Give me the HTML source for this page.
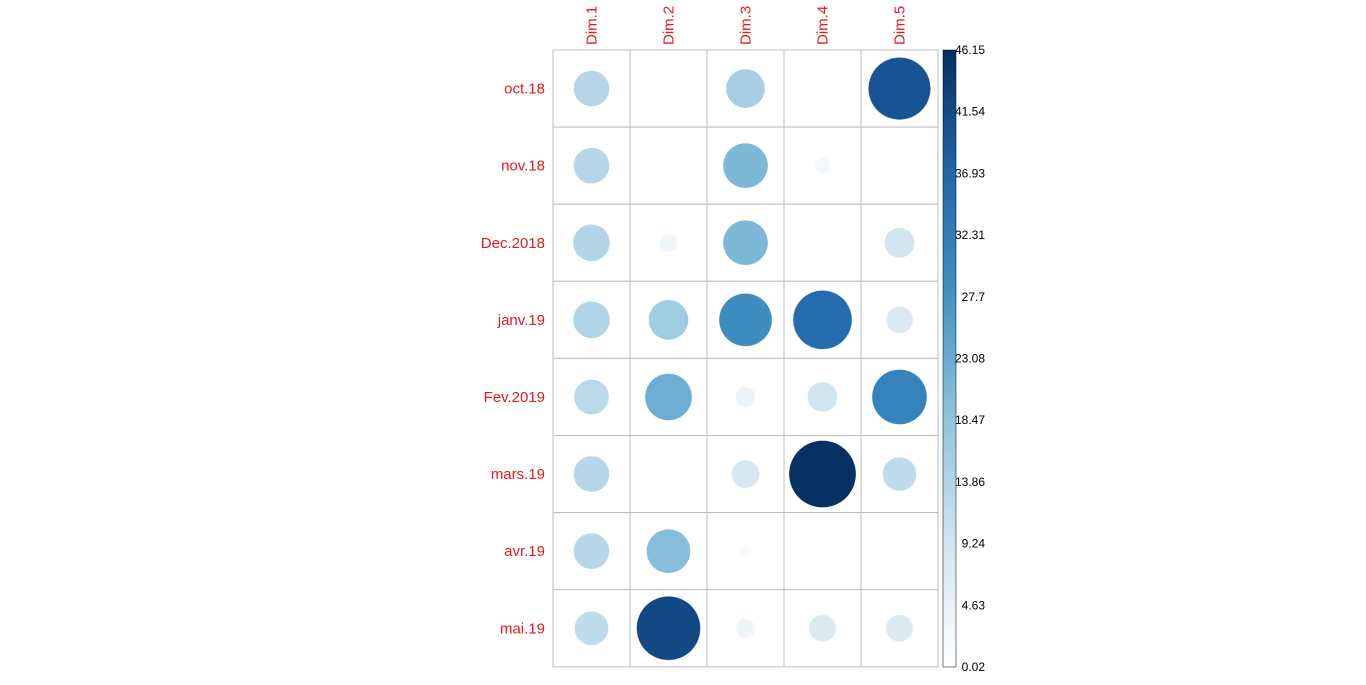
<!DOCTYPE html>
<html><head><meta charset="utf-8"><style>
html,body{margin:0;padding:0;background:#fff;}
svg{display:block;font-family:"Liberation Sans",Arial,sans-serif;}
</style></head><body>
<svg id="chart" width="1366" height="685" xmlns="http://www.w3.org/2000/svg"></svg>
<script>
const rows = ["oct.18","nov.18","Dec.2018","janv.19","Fev.2019","mars.19","avr.19","mai.19"];
const cols = ["Dim.1","Dim.2","Dim.3","Dim.4","Dim.5"];
const dim1 = [13.3,13.3,14.0,14.0,12.6,13.3,13.3,11.9];
const dim2 = [0.02,0.1,3.3,16.4,22.7,0.02,19.9,42.0];
const dim3 = [15.6,20.8,20.8,28.9,4.1,8.1,1.5,3.7];
const dim4 = [0.02,2.6,0.02,35.8,9.3,46.15,0.02,7.5];
const dim5 = [40.0,0.4,9.3,7.5,31.1,11.9,0.4,7.5];
const tickLabels = ["0.02","4.63","9.24","13.86","18.47","23.08","27.7","32.31","36.93","41.54","46.15"];
const vmin = 0.02, vmax = 46.15;

const series = [dim1,dim2,dim3,dim4,dim5];
const NS="http://www.w3.org/2000/svg";
const svg=document.getElementById('chart');
const X0=553, Y0=50, CW=77, RH=77.1, MAXD=67;
const palette=["#FFFFFF","#D1E5F0","#92C5DE","#4393C3","#2166AC","#053061"];
function hex(c){return [1,3,5].map(i=>parseInt(c.substr(i,2),16));}
function color(v){
  let t=(v-vmin)/(vmax-vmin); t=Math.max(0,Math.min(1,t));
  const p=t*(palette.length-1), i=Math.min(palette.length-2,Math.floor(p)), f=p-i;
  const a=hex(palette[i]), b=hex(palette[i+1]);
  return "rgb("+a.map((x,k)=>Math.round(x+(b[k]-x)*f)).join(",")+")";
}
function xPos(c){return X0+CW*c+CW/2;}
function yPos(r){return Y0+RH*r+RH/2;}
function el(tag,attrs){const e=document.createElementNS(NS,tag);for(const k in attrs)e.setAttribute(k,attrs[k]);svg.appendChild(e);return e;}

for(let r=0;r<rows.length;r++)for(let c=0;c<cols.length;c++){
  const g=el('rect',{x:X0+CW*c,y:Y0+RH*r,width:CW,height:RH,fill:'#fff',stroke:'#BEBEBE','stroke-width':1});
  
  
}
for(let c=0;c<cols.length;c++)for(let r=0;r<rows.length;r++){
  const v=series[c][r];
  const d=MAXD*Math.sqrt(Math.max(0,v)/vmax);
  const ci=el('circle',{cx:xPos(c),cy:yPos(r),r:d/2,fill:color(v),stroke:'#fff','stroke-width':0.3});
  
  
}
rows.forEach((n,r)=>{
  const t=el('text',{x:545,y:yPos(r)+5,'text-anchor':'end','font-size':15,fill:'#E41A1C'});
  t.textContent=n;
  
  
});
cols.forEach((n,c)=>{
  const x=xPos(c)+5,y=45;
  const t=el('text',{x:x,y:y,transform:`rotate(-90 ${x} ${y})`,'font-size':15,fill:'#E41A1C'});
  t.textContent=n;
  
  
});
const CBX=943,CBW=13,CBY0=50,CBY1=667,N=200;
for(let i=0;i<N;i++){
  const v=vmin+(vmax-vmin)*(i+0.5)/N;
  const h=(CBY1-CBY0)/N;
  const rr=el('rect',{x:CBX,y:CBY1-(i+1)*h,width:CBW,height:h+0.6,fill:color(v)});
  
  
}
const box=el('rect',{x:CBX,y:CBY0,width:CBW,height:CBY1-CBY0,fill:'none',stroke:'#000','stroke-width':0.5});


tickLabels.forEach((s,i)=>{
  const y=CBY1-(CBY1-CBY0)*i/(tickLabels.length-1);
  const t=el('text',{x:985,y:y+4,'text-anchor':'end','font-size':12,fill:'#000'});
  t.textContent=s;
  
  
});
</script>
</body></html>
